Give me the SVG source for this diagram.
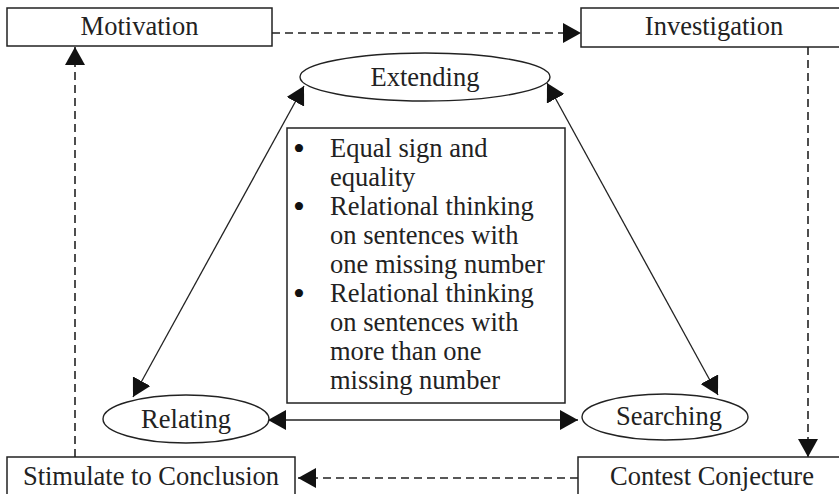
<svg xmlns="http://www.w3.org/2000/svg" width="839" height="494" viewBox="0 0 839 494">
<style>
.box{fill:#fff;stroke:#222;stroke-width:1.5}
.ell{fill:#fff;stroke:#222;stroke-width:1.4}
.t{font-family:"Liberation Serif","DejaVu Serif",serif;font-size:26.5px;fill:#222}
.b{font-family:"Liberation Serif","DejaVu Serif",serif;font-size:34px;fill:#111}
.c{text-anchor:middle}
.dash{fill:none;stroke:#222;stroke-width:1.6;stroke-dasharray:8 5}
.solid{fill:none;stroke:#222;stroke-width:1.3}
</style>
<defs>
<marker id="ah" markerUnits="userSpaceOnUse" viewBox="0 0 18 20" refX="18" refY="10" markerWidth="18" markerHeight="20" orient="auto-start-reverse">
<path d="M0,0 L18,10 L0,20 z" fill="#111"/>
</marker>
</defs>
<rect width="839" height="494" fill="#fff"/>
<g id="connectors">
<line class="dash" x1="272" y1="33" x2="581" y2="33" marker-end="url(#ah)"/>
<line class="dash" x1="808" y1="47" x2="808" y2="457" marker-end="url(#ah)"/>
<line class="dash" x1="578" y1="478" x2="298" y2="478" marker-end="url(#ah)"/>
<line class="dash" x1="75" y1="457" x2="75" y2="47" marker-end="url(#ah)"/>
<line class="solid" x1="133" y1="397" x2="304" y2="86" marker-start="url(#ah)" marker-end="url(#ah)"/>
<line class="solid" x1="547" y1="83" x2="718" y2="395" marker-start="url(#ah)" marker-end="url(#ah)"/>
<line class="solid" x1="268" y1="420" x2="578" y2="420" marker-start="url(#ah)" marker-end="url(#ah)"/>
</g>
<g id="motivation">
<rect class="box" x="7" y="8" width="265" height="38"/>
<text class="t c" x="139.5" y="35">Motivation</text>
</g>
<g id="investigation">
<rect class="box" x="581" y="8" width="270" height="39"/>
<text class="t c" x="714" y="35">Investigation</text>
</g>
<g id="contest">
<rect class="box" x="578" y="457" width="273" height="50"/>
<text class="t c" x="712" y="485">Contest Conjecture</text>
</g>
<g id="stimulate">
<rect class="box" x="7" y="457" width="288" height="50"/>
<text class="t c" x="151" y="485">Stimulate to Conclusion</text>
</g>
<g id="extending">
<ellipse class="ell" cx="425" cy="77" rx="125" ry="24"/>
<text class="t c" x="425" y="86">Extending</text>
</g>
<g id="relating">
<ellipse class="ell" cx="186" cy="419" rx="83" ry="24"/>
<text class="t c" x="186" y="428">Relating</text>
</g>
<g id="searching">
<ellipse class="ell" cx="665" cy="417" rx="83" ry="23"/>
<text class="t c" x="669" y="425">Searching</text>
</g>
<g id="content">
<rect class="box" x="287" y="128" width="278" height="275"/>
<text class="b" x="293" y="160">•</text>
<text class="t" x="330" y="157">Equal sign and</text>
<text class="t" x="330" y="186">equality</text>
<text class="b" x="293" y="218">•</text>
<text class="t" x="330" y="215">Relational thinking</text>
<text class="t" x="330" y="244">on sentences with</text>
<text class="t" x="330" y="273">one missing number</text>
<text class="b" x="293" y="305">•</text>
<text class="t" x="330" y="302">Relational thinking</text>
<text class="t" x="330" y="331">on sentences with</text>
<text class="t" x="330" y="360">more than one</text>
<text class="t" x="330" y="389">missing number</text>
</g>
</svg>
